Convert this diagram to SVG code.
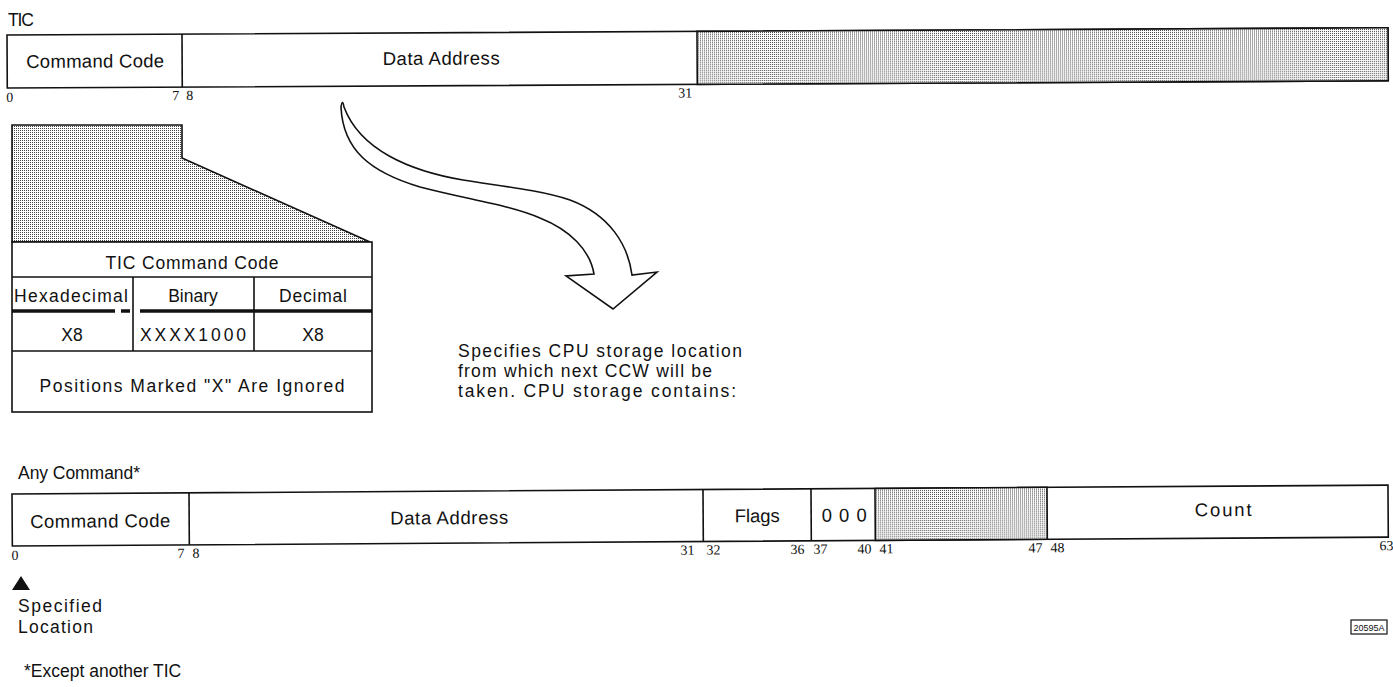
<svg xmlns="http://www.w3.org/2000/svg" width="1393" height="687" viewBox="0 0 1393 687">
<style>
  .t{font-family:"Liberation Sans",Arial,sans-serif;font-size:17.5px;fill:#111}
  .big{font-size:18.5px}
  .c{text-anchor:middle}
  .n{font-family:"Liberation Serif","Times New Roman",serif;font-size:14px;fill:#111}
  .box{fill:#fff;stroke:#111;stroke-width:1.6}
  .ln{stroke:#111;stroke-width:1.6;fill:none}
  .sh{fill:url(#dots);stroke:#111;stroke-width:1.6}
</style>
<defs>
  <pattern id="dots" width="2" height="2" patternUnits="userSpaceOnUse">
    <rect width="2" height="2" fill="#fff"/>
    <rect width="1" height="1" fill="#444"/>
  </pattern>
</defs>
<rect width="1393" height="687" fill="#fff"/>

<g id="tic-word">
  <text class="t" x="8" y="26" font-size="15" textLength="26">TIC</text>
  <g transform="rotate(-0.3 7 35)">
    <rect class="box" x="7" y="35" width="1381" height="53"/>
    <rect class="sh" x="697" y="35" width="691" height="53"/>
    <line class="ln" x1="182" y1="35" x2="182" y2="88"/>
    <text class="t big c" x="95" y="68" textLength="138">Command Code</text>
    <text class="t big c" x="441" y="67" textLength="117">Data Address</text>
    <text class="n" x="6" y="102">0</text>
    <text class="n" x="172" y="101">7</text>
    <text class="n" x="186" y="101">8</text>
    <text class="n" x="678" y="101">31</text>
  </g>
</g>

<g id="tic-command-code-table">
  <path class="sh" d="M12,125 L182,125 L182,158 L370,242 L12,242 Z"/>
  <rect class="box" x="12" y="242" width="360" height="170"/>
  <line class="ln" x1="12" y1="277" x2="372" y2="277"/>
  <line class="ln" x1="12" y1="351" x2="372" y2="351"/>
  <line class="ln" x1="133" y1="277" x2="133" y2="351"/>
  <line class="ln" x1="254" y1="277" x2="254" y2="351"/>
  <g stroke="#111" stroke-width="3.5">
    <line x1="12" y1="311" x2="115" y2="311"/>
    <line x1="121" y1="311" x2="130" y2="311"/>
    <line x1="140" y1="311" x2="372" y2="311"/>
  </g>
  <text class="t c" x="192" y="269" textLength="173">TIC Command Code</text>
  <text class="t" x="14" y="302" textLength="114">Hexadecimal</text>
  <text class="t c" x="193" y="302">Binary</text>
  <text class="t c" x="313" y="302" textLength="68">Decimal</text>
  <text class="t c" x="72" y="341">X8</text>
  <text class="t c" x="193" y="341" textLength="106">XXXX1000</text>
  <text class="t c" x="313" y="341">X8</text>
  <text class="t c" x="192" y="392" textLength="305">Positions Marked "X" Are Ignored</text>
</g>

<g id="connectors">
  <path class="box" stroke-linejoin="miter" d="M341,107 C343,150 370,172 420,187 C470,200 510,205 540,218 C570,230 590,250 594,274 L566,276 L613,309 L657,272 L632,275 C628,245 610,215 570,200 C540,190 500,186 463,180 C410,171 360,150 344,107 Q342.5,98 341,107 Z"/>
</g>

<g id="description">
  <text class="t" x="458" y="357" textLength="284">Specifies CPU storage location</text>
  <text class="t" x="458" y="377" textLength="254">from which next CCW will be</text>
  <text class="t" x="458" y="397" textLength="278">taken. CPU storage contains:</text>
</g>

<g id="any-command">
  <text class="t" x="18" y="479" textLength="122">Any Command*</text>
  <g transform="rotate(-0.37 12 494)">
    <rect class="box" x="12" y="494" width="1376" height="52"/>
    <rect class="sh" x="875" y="494" width="172" height="52"/>
    <line class="ln" x1="189" y1="494" x2="189" y2="546"/>
    <line class="ln" x1="703" y1="494" x2="703" y2="546"/>
    <line class="ln" x1="811" y1="494" x2="811" y2="546"/>
    <text class="t big c" x="100" y="528" textLength="140">Command Code</text>
    <text class="t big c" x="449" y="527" textLength="118">Data Address</text>
    <text class="t big c" x="757" y="527" textLength="45">Flags</text>
    <text class="t big c" x="844" y="527" textLength="45">0 0 0</text>
    <text class="t big c" x="1223" y="524" textLength="57">Count</text>
    <text class="n" x="11" y="560">0</text>
    <text class="n" x="177" y="559">7</text>
    <text class="n" x="192" y="559">8</text>
    <text class="n" x="680" y="559">31</text>
    <text class="n" x="706" y="559">32</text>
    <text class="n" x="790" y="559">36</text>
    <text class="n" x="813" y="559">37</text>
    <text class="n" x="857" y="559">40</text>
    <text class="n" x="879" y="559">41</text>
    <text class="n" x="1028" y="559">47</text>
    <text class="n" x="1050" y="559">48</text>
    <text class="n" x="1379" y="559">63</text>
  </g>
</g>

<g id="specified-location">
  <path d="M21,576 L30,590 L12,590 Z" fill="#111"/>
  <text class="t" x="18" y="612" textLength="84">Specified</text>
  <text class="t" x="18" y="633" textLength="75">Location</text>
</g>

<g id="footnote">
  <text class="t" x="24" y="677">*Except another TIC</text>
</g>

<g id="figure-id">
  <rect x="1351" y="620" width="36" height="14" fill="#fff" stroke="#111" stroke-width="1.2"/>
  <text x="1369" y="631" text-anchor="middle" font-family="Liberation Sans Narrow,Liberation Sans,sans-serif" font-size="9" textLength="31" fill="#111">20595A</text>
</g>
</svg>
